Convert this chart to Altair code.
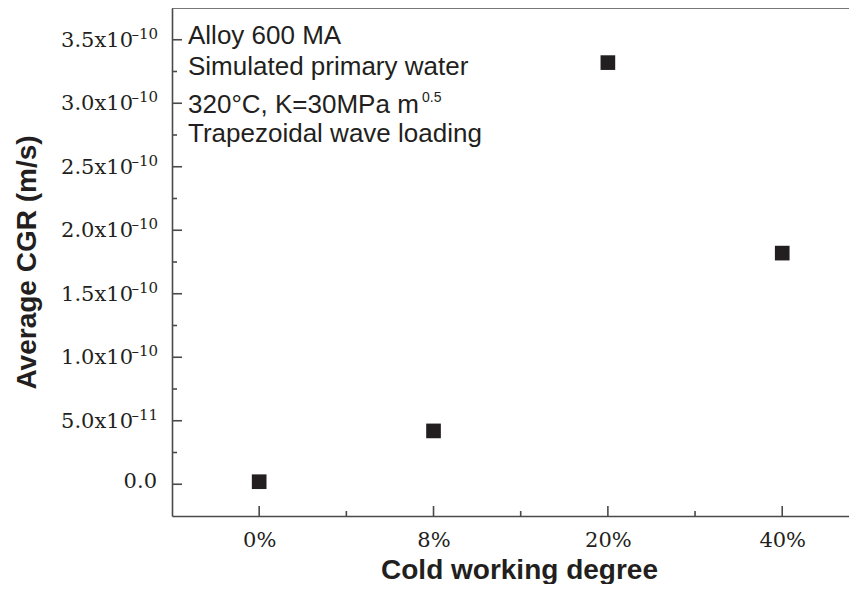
import altair as alt
import pandas as pd

# ---- data ----
categories = ["0%", "8%", "20%", "40%"]
cgr = [2e-12, 4.2e-11, 3.32e-10, 1.82e-10]

y_major = [0, 5e-11, 1e-10, 1.5e-10, 2e-10, 2.5e-10, 3e-10, 3.5e-10]
y_base = ["0.0", "5.0x10", "1.0x10", "1.5x10", "2.0x10", "2.5x10", "3.0x10", "3.5x10"]
y_exp = ["", "–11", "–10", "–10", "–10", "–10", "–10", "–10"]
y_minor = [2.5e-11, 7.5e-11, 1.25e-10, 1.75e-10, 2.25e-10, 2.75e-10, 3.25e-10]
x_major = [0, 1, 2, 3]
x_minor = [0.5, 1.5, 2.5]

notes = ["Alloy 600 MA", "Simulated primary water", "320°C, K=30MPa m",
         "Trapezoidal wave loading"]
note_sup = "0.5"

W, H = 677, 508
INK = "#231f20"
AXC = "#4a4a4a"
LBLFONT = "DejaVu Serif"

df = pd.DataFrame({"cat": categories, "pos": list(range(len(categories))), "cgr": cgr})
lab = pd.DataFrame({"cgr": y_major, "base": y_base, "exp": y_exp})
lab_exp = lab[lab["exp"] != ""]
lab_plain = lab[lab["exp"] == ""]

xscale = alt.Scale(domain=[-0.5, 3.383], nice=False, zero=False)
yscale = alt.Scale(domain=[-2.5e-11, 3.75e-10], nice=False, zero=False)

x_label_expr = "[" + ",".join(f"'{c}'" for c in categories) + "][datum.value]"

xaxis = alt.Axis(
    values=x_major, labelExpr=x_label_expr, ticks=False, grid=False,
    domainColor=AXC, domainWidth=1.6,
    labelFont=LBLFONT, labelFontSize=21, labelColor=INK, labelPadding=13,
    title="Cold working degree", titleFont="Liberation Sans", titleFontSize=28,
    titleFontWeight="bold", titleColor=INK, titleX=347, titleY=62,
    titleBaseline="alphabetic", titleAlign="center")
yaxis = alt.Axis(
    values=y_major, labels=False, ticks=False, grid=False,
    domainColor=AXC, domainWidth=1.6,
    title="Average CGR (m/s)", titleFont="Liberation Sans", titleFontSize=28,
    titleFontWeight="bold", titleColor=INK, titleX=-137, titleY=H / 2,
    titleAngle=-90, titleBaseline="alphabetic", titleAlign="center")

points = alt.Chart(df).mark_square(size=215, color=INK, opacity=1).encode(
    x=alt.X("pos:Q", scale=xscale, axis=xaxis),
    y=alt.Y("cgr:Q", scale=yscale, axis=yaxis),
)

def yticks(vals, length):
    return alt.Chart(pd.DataFrame({"cgr": vals})).mark_rule(color=AXC, strokeWidth=1.6).encode(
        y=alt.Y("cgr:Q", scale=yscale, axis=yaxis), x=alt.value(0), x2=alt.value(length))

def xticks(vals, length):
    return alt.Chart(pd.DataFrame({"pos": vals})).mark_rule(color=AXC, strokeWidth=1.6).encode(
        x=alt.X("pos:Q", scale=xscale, axis=xaxis), y=alt.value(H), y2=alt.value(H - length))

base_lbl = alt.Chart(lab_exp).mark_text(
    align="right", baseline="middle", font=LBLFONT, fontSize=21, color=INK, dy=1).encode(
    y=alt.Y("cgr:Q", scale=yscale, axis=yaxis), x=alt.value(-39), text="base:N")
plain_lbl = alt.Chart(lab_plain).mark_text(
    align="right", baseline="middle", font=LBLFONT, fontSize=21, color=INK, dy=-2).encode(
    y=alt.Y("cgr:Q", scale=yscale, axis=yaxis), x=alt.value(-15), text="base:N")
exp_lbl = alt.Chart(lab_exp).mark_text(
    align="right", baseline="alphabetic", font=LBLFONT, fontSize=15, color=INK, dy=-1).encode(
    y=alt.Y("cgr:Q", scale=yscale, axis=yaxis), x=alt.value(-14), text="exp:N")

top_border = alt.Chart(alt.Data(values=[{}])).mark_rule(color=AXC, strokeWidth=1.6).encode(
    x=alt.value(0), x2=alt.value(W), y=alt.value(0))

note_y = [36, 67, 105, 134]
note_layers = []
for txt, yy in zip(notes, note_y):
    note_layers.append(
        alt.Chart(alt.Data(values=[{}])).mark_text(
            text=txt, align="left", baseline="alphabetic", font="Liberation Sans",
            fontSize=26, color=INK).encode(x=alt.value(16), y=alt.value(yy)))
note_layers.append(
    alt.Chart(alt.Data(values=[{}])).mark_text(
        text=note_sup, align="left", baseline="alphabetic", font="Liberation Sans",
        fontSize=14, color=INK).encode(x=alt.value(250), y=alt.value(94)))

chart = alt.layer(
    points,
    yticks(y_major, 10), yticks(y_minor, 5),
    xticks(x_major, 10), xticks(x_minor, 5),
    base_lbl, plain_lbl, exp_lbl,
    top_border, *note_layers,
).properties(
    width=W, height=H,
    autosize=alt.AutoSizeParams(type="none"),
    padding={"left": 164, "top": 0, "right": 0, "bottom": 68},
).configure_view(stroke=None)

chart.save("out.html", embed_options={"renderer": "svg", "actions": False})
